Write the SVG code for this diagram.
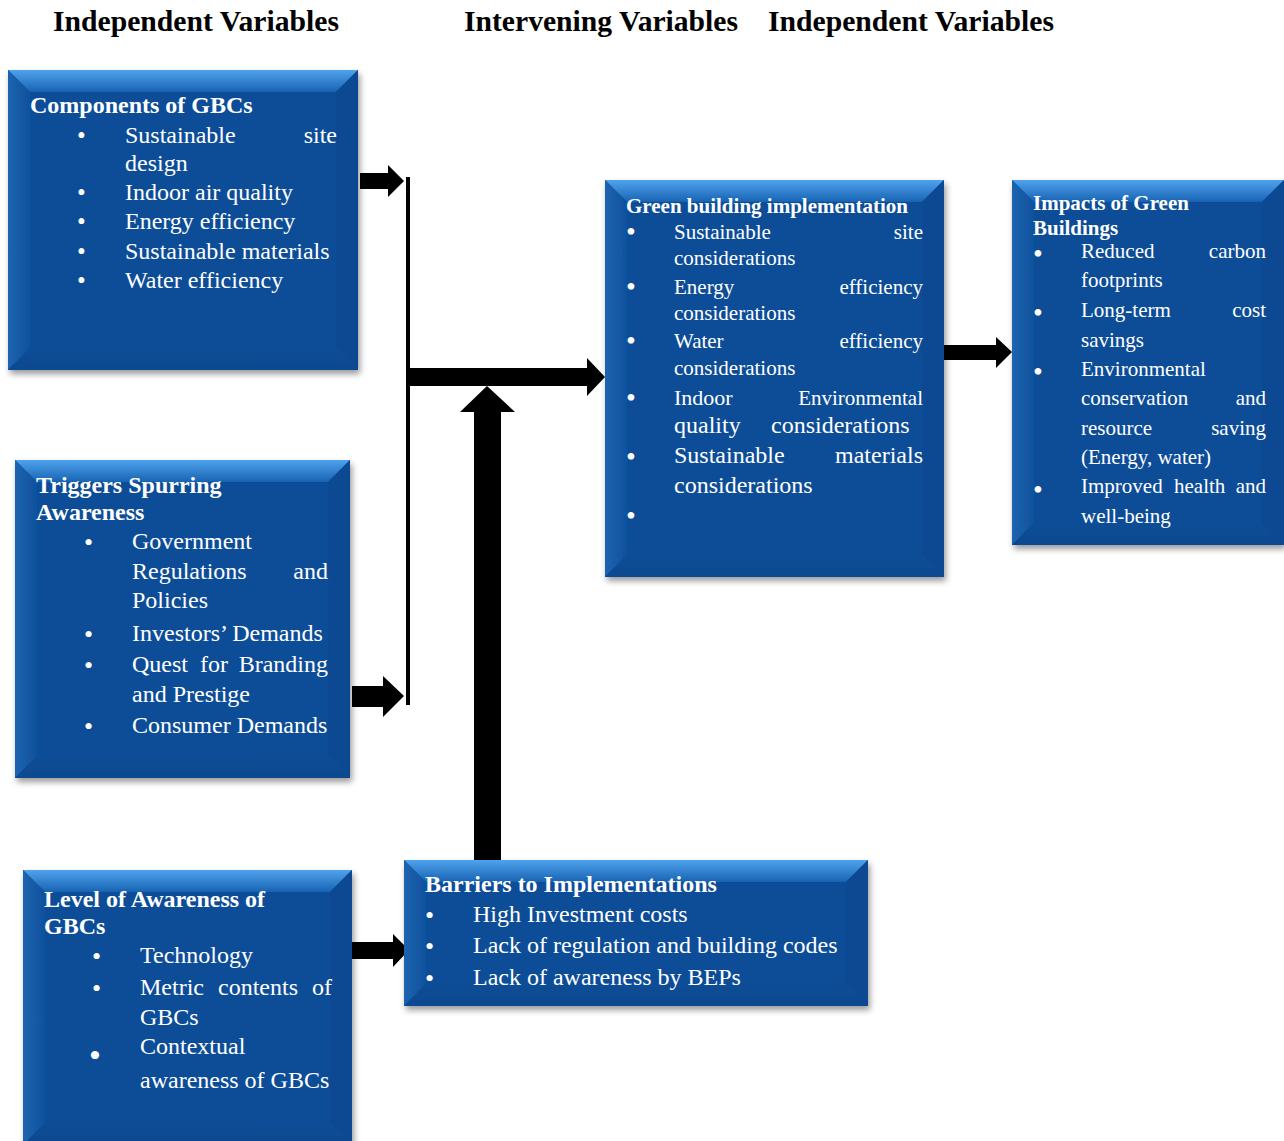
<svg xmlns="http://www.w3.org/2000/svg" width="1284" height="1141" viewBox="0 0 1284 1141">
<style>
text{font-family:"Liberation Serif","Times New Roman",serif;fill:#fff}
.h{font-size:29px;font-weight:bold;fill:#000}
.t{font-weight:bold;font-size:24px}
.s24{font-size:24px}
.s21{font-size:21px}
.b{font-size:31px}
.b25{font-size:25px}
.b26{font-size:26px}
.base{fill:#0B4E98}
.top{fill:url(#gTop)}
.left{fill:url(#gLeft)}
.right{fill:#0A4A92}
.bot{fill:url(#gBot)}
.arrow{fill:#000}
</style>
<defs>
<linearGradient id="gTop" x1="0" y1="0" x2="0" y2="1"><stop offset="0" stop-color="#4FA3EE"/><stop offset="1" stop-color="#1763B2"/></linearGradient>
<linearGradient id="gLeft" x1="0" y1="0" x2="1" y2="0"><stop offset="0" stop-color="#1E64B0"/><stop offset="1" stop-color="#0E519C"/></linearGradient>
<linearGradient id="gBot" x1="0" y1="0" x2="0" y2="1"><stop offset="0" stop-color="#0B4D96"/><stop offset="1" stop-color="#0A4990"/></linearGradient>
<filter id="sh" x="-10%" y="-10%" width="125%" height="125%"><feDropShadow dx="2" dy="4" stdDeviation="3" flood-color="#000" flood-opacity="0.4"/></filter>
</defs>
<rect width="1284" height="1141" fill="#fff"/>

<g id="headers">
<text class="h" x="53" y="31" textLength="286" lengthAdjust="spacingAndGlyphs">Independent Variables</text>
<text class="h" x="464" y="31" textLength="274" lengthAdjust="spacingAndGlyphs">Intervening Variables</text>
<text class="h" x="768" y="31" textLength="286" lengthAdjust="spacingAndGlyphs">Independent Variables</text>
</g>

<g id="connectors">
<polygon class="arrow" points="360,173 388,173 388,165 404,181 388,197 388,189 360,189"/>
<rect class="arrow" x="406" y="177" width="4" height="528"/>
<polygon class="arrow" points="408,368 587,368 587,358 605,377 587,396 587,386 408,386"/>
<polygon class="arrow" points="474,861 474,412 460,412 487,386 515,412 501,412 501,861"/>
<polygon class="arrow" points="352,686 383,686 383,676 404,696 383,717 383,707 352,707"/>
<polygon class="arrow" points="350,942 393,942 393,934 409,950 393,967 393,959 350,959"/>
<polygon class="arrow" points="944,345 996,345 996,337 1012,352 996,368 996,360 944,360"/>
</g>

<g id="components">
<g filter="url(#sh)">
<rect class="base" x="8" y="70" width="350" height="300"/>
<polygon class="top" points="8,70 358,70 336,92 30,92"/>
<polygon class="left" points="8,70 30,92 30,348 8,370"/>
<polygon class="right" points="358,70 358,370 336,348 336,92"/>
<polygon class="bot" points="8,370 358,370 336,348 30,348"/>
</g>
<text class="t" x="30" y="113">Components of GBCs</text>
<g class="b25">
<text x="77" y="144">•</text><text x="77" y="201">•</text><text x="77" y="230">•</text><text x="77" y="260">•</text><text x="77" y="289">•</text>
</g>
<g class="s24">
<text x="125" y="143">Sustainable</text><text x="337" y="143" text-anchor="end">site</text>
<text x="125" y="171">design</text>
<text x="125" y="200">Indoor air quality</text>
<text x="125" y="229">Energy efficiency</text>
<text x="125" y="259">Sustainable materials</text>
<text x="125" y="288">Water efficiency</text>
</g>
</g>

<g id="triggers">
<g filter="url(#sh)">
<rect class="base" x="15" y="460" width="335" height="318"/>
<polygon class="top" points="15,460 350,460 328,482 37,482"/>
<polygon class="left" points="15,460 37,482 37,756 15,778"/>
<polygon class="right" points="350,460 350,778 328,756 328,482"/>
<polygon class="bot" points="15,778 350,778 328,756 37,756"/>
</g>
<text class="t" x="36" y="493">Triggers Spurring</text>
<text class="t" x="36" y="520">Awareness</text>
<g class="b26">
<text x="84" y="551">•</text><text x="84" y="643">•</text><text x="84" y="674">•</text><text x="84" y="735">•</text>
</g>
<g class="s24">
<text x="132" y="549">Government</text>
<text x="132" y="579">Regulations</text><text x="328" y="579" text-anchor="end">and</text>
<text x="132" y="608">Policies</text>
<text x="132" y="641">Investors’ Demands</text>
<text x="132" y="672">Quest</text><text x="200" y="672">for</text><text x="328" y="672" text-anchor="end">Branding</text>
<text x="132" y="702">and Prestige</text>
<text x="132" y="733">Consumer Demands</text>
</g>
</g>

<g id="awareness">
<g filter="url(#sh)">
<rect class="base" x="23" y="870" width="329" height="275"/>
<polygon class="top" points="23,870 352,870 330,892 45,892"/>
<polygon class="left" points="23,870 45,892 45,1123 23,1145"/>
<polygon class="right" points="352,870 352,1145 330,1123 330,892"/>
<polygon class="bot" points="23,1145 352,1145 330,1123 45,1123"/>
</g>
<text class="t" x="44" y="907">Level of Awareness of</text>
<text class="t" x="44" y="934">GBCs</text>
<g class="b26">
<text x="92" y="965">•</text><text x="92" y="997">•</text><text x="89" y="1067" style="font-size:34px">•</text>
</g>
<g class="s24">
<text x="140" y="963">Technology</text>
<text x="140" y="995">Metric</text><text x="218" y="995">contents</text><text x="332" y="995" text-anchor="end">of</text>
<text x="140" y="1025">GBCs</text>
<text x="140" y="1054">Contextual</text>
<text x="140" y="1088">awareness of GBCs</text>
</g>
</g>

<g id="barriers">
<g filter="url(#sh)">
<rect class="base" x="404" y="860" width="464" height="146"/>
<polygon class="top" points="404,860 868,860 846,882 426,882"/>
<polygon class="left" points="404,860 426,882 426,984 404,1006"/>
<polygon class="right" points="868,860 868,1006 846,984 846,882"/>
<polygon class="bot" points="404,1006 868,1006 846,984 426,984"/>
</g>
<text class="t" x="425" y="892">Barriers to Implementations</text>
<g class="b26">
<text x="425" y="924">•</text><text x="425" y="955">•</text><text x="425" y="987">•</text>
</g>
<g class="s24">
<text x="473" y="922">High Investment costs</text>
<text x="473" y="953">Lack of regulation and building codes</text>
<text x="473" y="985">Lack of awareness by BEPs</text>
</g>
</g>

<g id="implementation">
<g filter="url(#sh)">
<rect class="base" x="605" y="180" width="339" height="397"/>
<polygon class="top" points="605,180 944,180 922,202 627,202"/>
<polygon class="left" points="605,180 627,202 627,555 605,577"/>
<polygon class="right" points="944,180 944,577 922,555 922,202"/>
<polygon class="bot" points="605,577 944,577 922,555 627,555"/>
</g>
<text x="626" y="213" style="font-size:21px;font-weight:bold">Green building implementation</text>
<g class="b" style="font-size:28px">
<text x="626" y="241">•</text><text x="626" y="296">•</text><text x="626" y="350">•</text><text x="626" y="407">•</text><text x="626" y="466">•</text><text x="626" y="525">•</text>
</g>
<g class="s21">
<text x="674" y="239">Sustainable</text><text x="923" y="239" text-anchor="end">site</text>
<text x="674" y="265">considerations</text>
<text x="674" y="294">Energy</text><text x="923" y="294" text-anchor="end">efficiency</text>
<text x="674" y="320">considerations</text>
<text x="674" y="348">Water</text><text x="923" y="348" text-anchor="end">efficiency</text>
<text x="674" y="375">considerations</text>
<text x="674" y="405" style="font-size:22px">Indoor</text><text x="923" y="405" text-anchor="end">Environmental</text>
</g>
<g class="s24">
<text x="674" y="433">quality</text><text x="771" y="433">considerations</text>
<text x="674" y="463">Sustainable</text><text x="923" y="463" text-anchor="end">materials</text>
<text x="674" y="493">considerations</text>
</g>
</g>

<g id="impacts">
<g filter="url(#sh)">
<rect class="base" x="1012" y="180" width="272" height="365"/>
<polygon class="top" points="1012,180 1284,180 1262,202 1034,202"/>
<polygon class="left" points="1012,180 1034,202 1034,523 1012,545"/>
<polygon class="right" points="1284,180 1284,545 1262,523 1262,202"/>
<polygon class="bot" points="1012,545 1284,545 1262,523 1034,523"/>
</g>
<text x="1033" y="210" style="font-size:21px;font-weight:bold">Impacts of Green</text>
<text x="1033" y="235" style="font-size:21px;font-weight:bold">Buildings</text>
<g class="b" style="font-size:28px">
<text x="1033" y="263">•</text><text x="1033" y="322">•</text><text x="1033" y="381">•</text><text x="1033" y="499">•</text>
</g>
<g class="s21">
<text x="1081" y="258">Reduced</text><text x="1266" y="258" text-anchor="end">carbon</text>
<text x="1081" y="287">footprints</text>
<text x="1081" y="317">Long-term</text><text x="1266" y="317" text-anchor="end">cost</text>
<text x="1081" y="347">savings</text>
<text x="1081" y="376">Environmental</text>
<text x="1081" y="405">conservation</text><text x="1266" y="405" text-anchor="end">and</text>
<text x="1081" y="435">resource</text><text x="1266" y="435" text-anchor="end">saving</text>
<text x="1081" y="464">(Energy, water)</text>
<text x="1081" y="493">Improved</text><text x="1174" y="493">health</text><text x="1266" y="493" text-anchor="end">and</text>
<text x="1081" y="523">well-being</text>
</g>
</g>
</svg>
